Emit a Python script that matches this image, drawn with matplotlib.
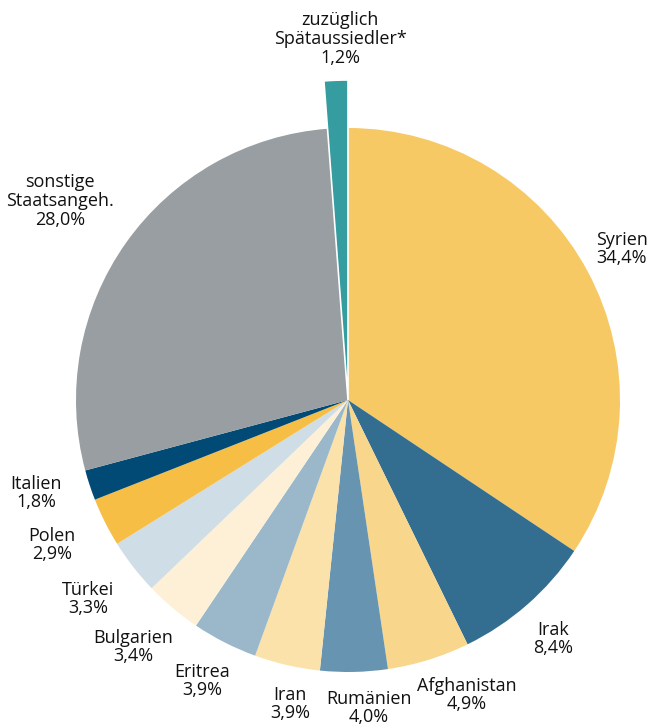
import matplotlib.pyplot as plt

# data
countries = ["Syrien", "Irak", "Afghanistan", "Rumänien", "Iran", "Eritrea",
             "Bulgarien", "Türkei", "Polen", "Italien", "sonstige\nStaatsangeh.",
             "zuzüglich\nSpätaussiedler*"]
shares = [34.4, 8.4, 4.9, 4.0, 3.9, 3.9, 3.4, 3.3, 2.9, 1.8, 28.0, 1.2]
share_labels = ["34,4%", "8,4%", "4,9%", "4,0%", "3,9%", "3,9%", "3,4%",
                "3,3%", "2,9%", "1,8%", "28,0%", "1,2%"]

colors = ["#F7C965", "#336E91", "#F8D68C", "#6795B1", "#FBE2AA", "#9BB8CB",
          "#FDF0D6", "#CEDDE6", "#F6BE45", "#004A75", "#989EA1", "#359C9F"]

# label placement (pixel coords, image y from top) and alignment
label_pos = [(596, 249, "left"), (553, 639, "center"), (467, 695, "center"),
             (369, 708, "center"), (290, 704, "center"), (202, 681, "center"),
             (133, 647, "center"), (88, 599, "center"), (52, 545, "center"),
             (36, 493, "center"), (60, 201, "center"), (340, 39, "center")]

W, H = 650, 727
plt.rcParams['font.family'] = ['Open Sans', 'DejaVu Sans']

fig = plt.figure(figsize=(W / 100, H / 100), dpi=100)
ax = fig.add_axes([0, 0, 1, 1])

cx, cy, r = 348, H - 400, 272
wedges, _ = ax.pie(shares, colors=colors, startangle=90, counterclock=False,
                   radius=r, center=(cx, cy), frame=True,
                   wedgeprops=dict(linewidth=0))
ax.set_xlim(0, W)
ax.set_ylim(0, H)
ax.set_aspect("equal")
ax.axis("off")

# Spätaussiedler wedge sticks out
wedges[-1].set_radius(320)
wedges[-1].set_edgecolor("white")
wedges[-1].set_linewidth(1.2)
wedges[-1].set_zorder(3)

for name, lab, (x, y, ha) in zip(countries, share_labels, label_pos):
    ax.text(x, H - y, name + "\n" + lab, ha=ha, va="center", fontsize=13,
            linespacing=1.05, color="#111111")

fig.savefig("out.png", dpi=100)
